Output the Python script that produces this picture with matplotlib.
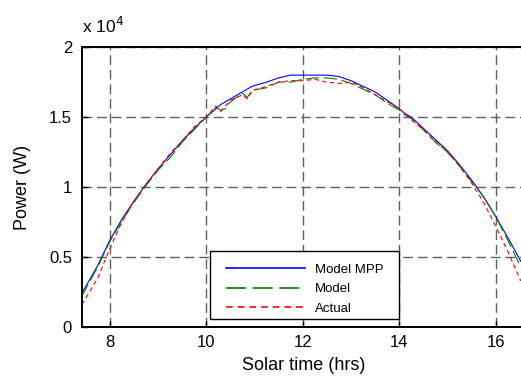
"""
PV array power vs solar time: model MPP, model and measured output.
"""

import matplotlib
matplotlib.use('Agg')
import matplotlib.pyplot as plt
from matplotlib.patches import Rectangle

plt.rcParams['font.family'] = ['Liberation Sans', 'DejaVu Sans']

# solar time (hrs)
time = [7.42, 7.75, 8.0, 8.25, 8.5, 8.75, 9.0, 9.25, 9.5, 9.75, 10.0, 10.2, 10.3,
        10.4, 10.5, 10.75, 10.85, 10.95, 11.25, 11.5, 11.75, 12.0, 12.25, 12.5,
        12.75, 13.0, 13.25, 13.5, 13.75, 14.0, 14.1, 14.25, 14.5, 14.75, 15.0,
        15.25, 15.5, 15.75, 16.0, 16.25, 16.52]

# power in units of 1e4 W
model_mpp = [0.24, 0.44, 0.62, 0.77, 0.90, 1.02, 1.13, 1.23, 1.33, 1.42, 1.50, 1.56, 1.59,
             1.61, 1.63, 1.68, 1.70, 1.72, 1.75, 1.78, 1.80, 1.80, 1.80, 1.80,
             1.79, 1.76, 1.72, 1.68, 1.62, 1.56, 1.53, 1.50, 1.42, 1.34, 1.26,
             1.16, 1.05, 0.93, 0.79, 0.64, 0.47]

model = [0.22, 0.43, 0.61, 0.76, 0.89, 1.01, 1.12, 1.21, 1.32, 1.41, 1.50, 1.57, 1.55,
         1.56, 1.61, 1.67, 1.64, 1.69, 1.71, 1.75, 1.75, 1.77, 1.78, 1.78,
         1.77, 1.74, 1.70, 1.66, 1.60, 1.55, 1.52, 1.49, 1.41, 1.32, 1.25,
         1.15, 1.04, 0.93, 0.79, 0.62, 0.43]

actual = [0.16, 0.35, 0.56, 0.75, 0.90, 1.02, 1.13, 1.24, 1.33, 1.43, 1.50, 1.58, 1.54,
          1.58, 1.62, 1.66, 1.63, 1.69, 1.72, 1.75, 1.76, 1.76, 1.77, 1.75,
          1.74, 1.75, 1.71, 1.66, 1.61, 1.56, 1.53, 1.48, 1.41, 1.33, 1.25,
          1.15, 1.03, 0.89, 0.72, 0.54, 0.33]

fig = plt.figure(figsize=(5.21, 3.83), dpi=100)
ax = fig.add_axes([0.157, 0.146, 0.850, 0.731])

ax.plot(time, model_mpp, color='#0000ff', lw=0.8, label='Model MPP')
ax.plot(time, model, color='#008000', lw=0.8, dashes=(12, 4), label='Model')
ax.plot(time, actual, color='#ff0000', lw=0.8, dashes=(4, 3), label='Actual')

ax.set_xlim(7.42, 16.6)
ax.set_ylim(0, 2)
ax.set_xticks([8, 10, 12, 14, 16])
ax.set_yticks([0, 0.5, 1, 1.5, 2])
ax.set_yticklabels(['0', '0.5', '1', '1.5', '2'])
ax.tick_params(direction='in', labelsize=12, length=4, width=1.0)
ax.tick_params(axis='x', pad=6)
ax.tick_params(axis='y', pad=7)
ax.grid(True, color='#606060', linestyle=(0, (7, 3.5)), lw=1.0)
ax.set_axisbelow(True)
for s in ax.spines.values():
    s.set_linewidth(1.4)

ax.set_xlabel('Solar time (hrs)', fontsize=13, labelpad=5)
ax.set_ylabel('Power (W)', fontsize=13, labelpad=13)
ax.text(0.0, 1.05, 'x 10$^4$', transform=ax.transAxes, fontsize=12.5,
        ha='left', va='baseline')

# legend box drawn separately so its margins match
ax.add_patch(Rectangle((0.289, 0.029), 0.427, 0.243, transform=ax.transAxes,
                       facecolor='white', edgecolor='black', lw=1.0, zorder=4))
leg = ax.legend(loc='center left', bbox_to_anchor=(0.325, 0.136), fontsize=9.5,
                frameon=False, handlelength=6.0, handletextpad=0.75,
                borderpad=0, borderaxespad=0, labelspacing=0.55)
leg.set_zorder(5)
for line in leg.get_lines():
    line.set_linewidth(1.2)

fig.savefig('out.png', dpi=100)
